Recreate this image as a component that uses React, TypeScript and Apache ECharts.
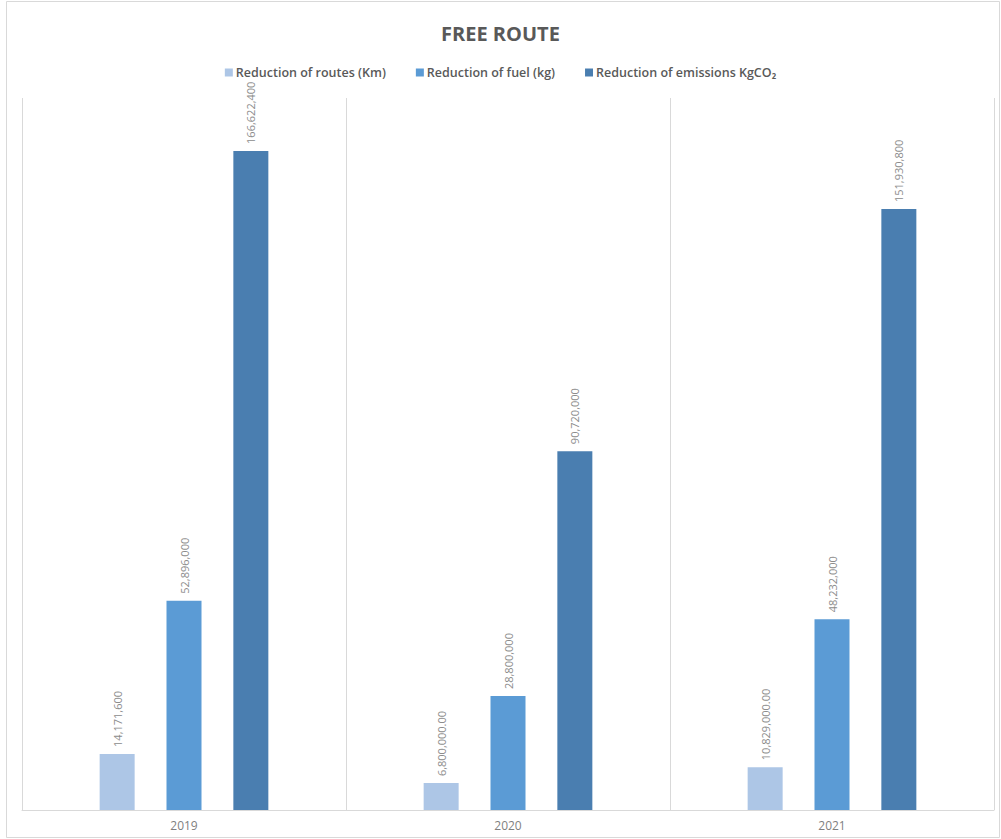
import React, { useEffect, useRef } from "react";
import * as echarts from "echarts";

const categories = ["2019", "2020", "2021"];
const seriesNames = [
  "Reduction of routes (Km)",
  "Reduction of fuel (kg)",
  "Reduction of emissions KgCO₂",
];
const routes = [14171600, 6800000, 10829000];
const fuel = [52896000, 28800000, 48232000];
const emissions = [166622400, 90720000, 151930800];
const routesLabels = ["14,171,600", "6,800,000.00", "10,829,000.00"];
const fuelLabels = ["52,896,000", "28,800,000", "48,232,000"];
const emissionsLabels = ["166,622,400", "90,720,000", "151,930,800"];
const colors = ["#adc6e6", "#5b9bd5", "#4a7eb0"];

const FONT = "'Open Sans', 'Noto Sans', sans-serif";

export default function App() {
  const ref = useRef<HTMLDivElement>(null);
  useEffect(() => {
    if (!ref.current) return;
    const chart = echarts.init(ref.current, null, { renderer: "svg" });
    const mk = (i: number, data: number[], labels: string[]) => ({
      name: seriesNames[i],
      type: "bar",
      data,
      barWidth: 35,
      barGap: "91%",
      itemStyle: { color: colors[i] },
      label: {
        show: true,
        position: "top",
        rotate: 90,
        align: "left",
        verticalAlign: "middle",
        distance: 7,
        color: "#8c8c8c",
        fontSize: 11,
        fontFamily: FONT,
        formatter: (p: any) => labels[p.dataIndex],
      },
    });
    chart.setOption({
      animation: false,
      backgroundColor: "#ffffff",
      title: {
        text: "FREE ROUTE",
        left: "center",
        top: 18,
        textStyle: {
          fontSize: 20,
          fontWeight: "bold",
          color: "#595959",
          fontFamily: FONT,
        },
      },
      legend: {
        top: 61,
        left: "center",
        itemWidth: 8,
        itemHeight: 8,
        itemGap: 30,
        icon: "rect",
        textStyle: {
          fontSize: 12.5,
          fontWeight: 600,
          color: "#595959",
          fontFamily: FONT,
          padding: [0, 0, 0, -2],
        },
        data: seriesNames,
      },
      graphic: [
        {
          type: "rect",
          shape: { x: 6.5, y: 1.5, width: 993, height: 836 },
          style: { fill: "none", stroke: "#d9d9d9", lineWidth: 1 },
          silent: true,
        },
      ],
      grid: { left: 22, right: 7, top: 98, bottom: 29, containLabel: false },
      xAxis: {
        type: "category",
        data: categories,
        axisLine: { show: true, lineStyle: { color: "#d9d9d9" } },
        axisTick: { show: false },
        splitLine: { show: true, lineStyle: { color: "#d9d9d9" } },
        axisLabel: {
          color: "#7f7f7f",
          fontSize: 12,
          fontFamily: FONT,
          margin: 9,
        },
      },
      yAxis: {
        type: "value",
        min: 0,
        max: 180000000,
        show: false,
        splitLine: { show: false },
      },
      series: [
        mk(0, routes, routesLabels),
        mk(1, fuel, fuelLabels),
        mk(2, emissions, emissionsLabels),
      ],
    });
    return () => chart.dispose();
  }, []);
  return (
    <div
      ref={ref}
      style={{ position: "fixed", left: 0, top: 0, width: 1001, height: 839 }}
    />
  );
}
